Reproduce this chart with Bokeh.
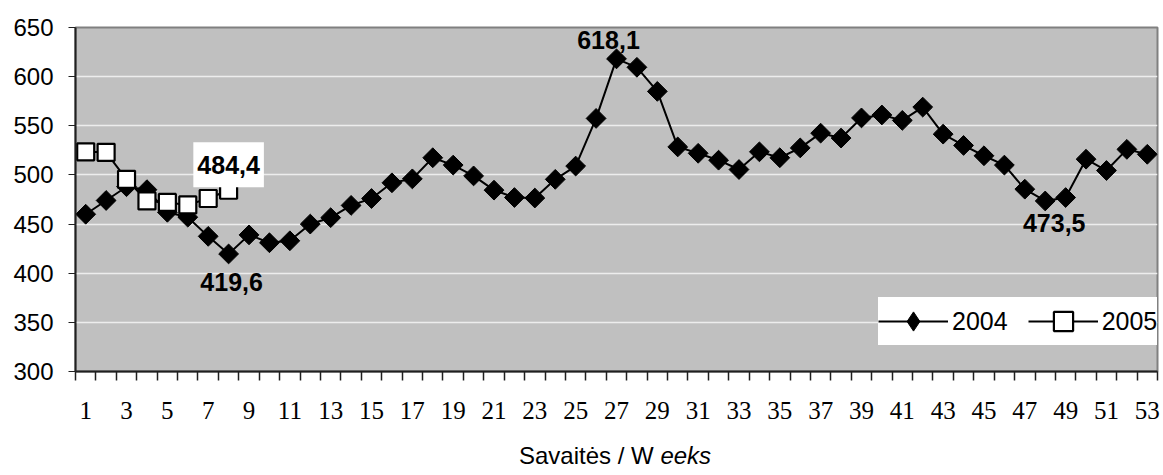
from bokeh.plotting import figure
from bokeh.models import FixedTicker, Label, Legend, LegendItem, ColumnDataSource
from bokeh.embed import file_html
from bokeh.resources import INLINE
import math

# ---- data ----
weeks_2004 = list(range(1, 54))
values_2004 = [460, 474, 488, 485, 462, 457, 437.5, 419.6, 439, 431,
               433, 450, 456.5, 469, 476, 492, 496, 517.5, 510, 499,
               484.5, 477, 476.5, 495.5, 509, 557.5, 618.1, 609.5, 585, 528.5,
               522, 515, 505.5, 523.5, 517.5, 527.5, 542.5, 537.5, 558, 561,
               555.5, 569, 541.5, 530, 519.5, 510, 485.5, 473.5, 477, 516,
               504.5, 526, 521]
weeks_2005 = [1, 2, 3, 4, 5, 6, 7, 8]
values_2005 = [523.5, 523, 495.5, 473.5, 472, 469.5, 476, 484.4]

x_tick_labels = [1, 3, 5, 7, 9, 11, 13, 15, 17, 19, 21, 23, 25, 27, 29, 31, 33,
                 35, 37, 39, 41, 43, 45, 47, 49, 51, 53]
y_ticks = [300, 350, 400, 450, 500, 550, 600, 650]

# annotated values (week, value, text)
note_2004_weeks = [8, 27, 48]
note_2004_values = [419.6, 618.1, 473.5]
note_2004_texts = ["419,6", "618,1", "473,5"]
note_2005_week = 8
note_2005_value = 484.4
note_2005_text = "484,4"

SANS = "Liberation Sans"
SERIF = "Liberation Serif"

p = figure(width=1160, height=475, output_backend="svg", toolbar_location=None,
           x_range=(0.5, 53.5), y_range=(300, 650),
           min_border_left=75, min_border_right=3, min_border_top=27,
           min_border_bottom=103)

p.background_fill_color = "#C0C0C0"
p.border_fill_color = "white"
p.outline_line_color = "#808080"
p.outline_line_width = 2

# grid
p.xgrid.grid_line_color = None
p.ygrid.grid_line_color = "#EDEDED"
p.ygrid.grid_line_width = 1.5

# y axis
p.yaxis.ticker = FixedTicker(ticks=y_ticks)
p.yaxis.axis_line_color = "#202020"
p.yaxis.axis_line_width = 2
p.yaxis.major_tick_line_color = "#202020"
p.yaxis.major_tick_out = 7
p.yaxis.major_tick_in = 0
p.yaxis.minor_tick_line_color = None
p.yaxis.major_label_text_font = SANS
p.yaxis.major_label_text_font_size = "24px"
p.yaxis.major_label_text_color = "black"
p.yaxis.major_label_standoff = 15

# x axis: labels at odd weeks, ticks at category boundaries
bounds = [w - 0.5 for w in weeks_2004] + [weeks_2004[-1] + 0.5]
p.xaxis.ticker = FixedTicker(ticks=x_tick_labels, minor_ticks=bounds)
p.xaxis.axis_line_color = "#202020"
p.xaxis.axis_line_width = 2
p.xaxis.major_tick_line_color = None
p.xaxis.major_tick_out = 0
p.xaxis.major_tick_in = 0
p.xaxis.minor_tick_line_color = "#202020"
p.xaxis.minor_tick_line_width = 1.5
p.xaxis.minor_tick_out = 9
p.xaxis.minor_tick_in = 0
p.xaxis.major_label_text_font = SERIF
p.xaxis.major_label_text_font_size = "25px"
p.xaxis.major_label_text_color = "black"
p.xaxis.major_label_standoff = 21

src04 = ColumnDataSource(dict(x=weeks_2004, y=values_2004))
src05 = ColumnDataSource(dict(x=weeks_2005, y=values_2005))

l04 = p.line("x", "y", source=src04, line_color="black", line_width=2)
m04 = p.scatter("x", "y", source=src04, marker="square", size=14, angle=math.pi / 4,
                fill_color="black", line_color="black", line_width=1)
l05 = p.line("x", "y", source=src05, line_color="black", line_width=2)
m05 = p.scatter("x", "y", source=src05, marker="square", size=17,
                fill_color="white", line_color="black", line_width=2.2)

# legend-only glyph (diamond swatch); its single point is not drawable
swatch = ColumnDataSource(dict(x=[float("nan")], y=[float("nan")]))
leg04 = p.scatter("x", "y", source=swatch, marker="diamond", size=25,
                  fill_color="black", line_color="black")

# value labels
offsets = {"419,6": (3, -19, "top"), "618,1": (-8, 10, "bottom"), "473,5": (9, -13, "top")}
for wk, val, txt in zip(note_2004_weeks, note_2004_values, note_2004_texts):
    dx, dy, base = offsets[txt]
    p.add_layout(Label(x=wk, y=val, text=txt, text_font=SANS, text_font_size="25px",
                       text_font_style="bold", text_align="center", text_baseline=base,
                       x_offset=dx, y_offset=dy, text_color="black"))

p.add_layout(Label(x=note_2005_week, y=note_2005_value, text=note_2005_text,
                   text_font=SANS, text_font_size="25px", text_font_style="bold",
                   text_align="center", text_baseline="bottom", y_offset=3,
                   text_color="black", background_fill_color="white",
                   padding=dict(left=4, right=4, top=14, bottom=13)))

# axis title (normal + italic part), placed in the panel below the axis
p.add_layout(Label(x=29.15, y=215, text="Savaitės / W ", text_font=SANS,
                   text_font_size="24px", text_align="right", text_baseline="middle",
                   text_color="black"), "below")
p.add_layout(Label(x=29.15, y=215, text="eeks", text_font=SANS, text_font_size="24px",
                   text_font_style="italic", text_align="left", text_baseline="middle",
                   text_color="black"), "below")

legend = Legend(items=[LegendItem(label="2004", renderers=[l04, leg04]),
                       LegendItem(label="2005", renderers=[l05, m05])],
                orientation="horizontal", location=(803, 26),
                label_text_font=SANS, label_text_font_size="25px",
                label_text_color="black", glyph_width=70, glyph_height=48,
                label_height=48, label_standoff=4, spacing=20, padding=0, margin=0,
                border_line_color=None, background_fill_color="white",
                background_fill_alpha=1.0)
p.add_layout(legend)

open("out.html", "w").write(file_html(p, INLINE))
